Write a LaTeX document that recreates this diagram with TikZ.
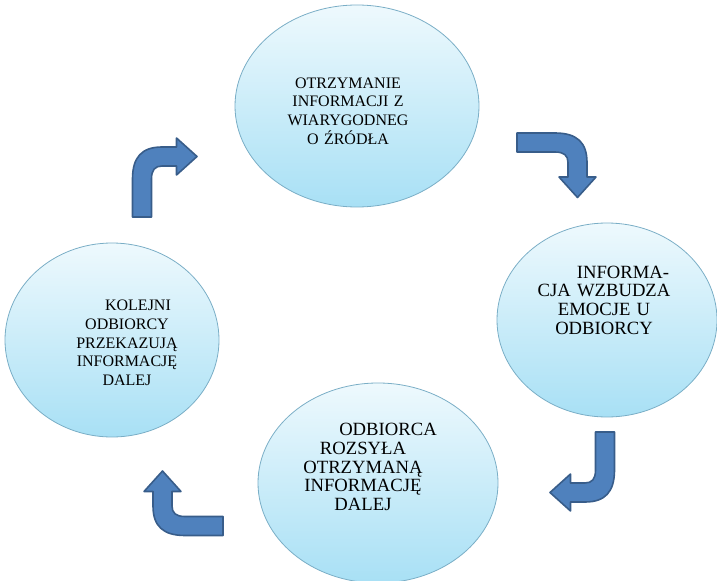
\documentclass[tikz,border=0pt]{standalone}
\usepackage{fontspec}
\setmainfont{Liberation Serif}
\usetikzlibrary{shapes.geometric}
\definecolor{bubbletop}{HTML}{EEF9FD}
\definecolor{bubblebottom}{HTML}{A8E0F5}
\definecolor{bubbleedge}{HTML}{7AAEC6}
\definecolor{arrowfill}{HTML}{4F81BD}
\definecolor{arrowedge}{HTML}{385D8A}
\tikzset{
	bubble/.style={
		ellipse, draw=bubbleedge, line width=0.6pt,
		top color=bubbletop, bottom color=bubblebottom, inner sep=0pt},
	bubbletext/.style={
		align=center, text width=120pt, inner sep=0pt,
		font=\fontsize{12}{14}\selectfont},
	bigtext/.style={font=\fontsize{14}{14}\selectfont},
	bentarrow/.pic={
		\filldraw [fill=arrowfill, draw=arrowedge, line width=1.2pt, line join=round]
		(-9.5,0) -- (-9.5,38) .. controls (-9.5,60) and (0,70) .. (20,70)
		-- (34.5,70) -- (34.5,79) -- (55,60.5) -- (34.5,42) -- (34.5,51)
		-- (20,51) .. controls (13,51) and (9.5,47) .. (9.5,38) -- (9.5,0) -- cycle;
	}
}
\begin{document}
\begin{tikzpicture}[x=0.75pt,y=0.75pt,yscale=-1,xscale=1]
\clip (0,0) rectangle (717,581); %set diagram to the page size

\node [bubble, minimum width=183pt, minimum height=151.5pt] (zrodlo) at (357,106) {};
\node [bubble, minimum width=165pt, minimum height=145.5pt] (emocje) at (607,320) {};
\node [bubble, minimum width=180pt, minimum height=150pt] (rozsyla) at (378,483) {};
\node [bubble, minimum width=160.5pt, minimum height=145.5pt] (kolejni) at (112,340) {};

\node [bubbletext] (zrodlotxt) at (348,111) {OTRZYMANIE\\ INFORMACJI Z\\ WIARYGODNEG\\ O ŹRÓDŁA};
\node [bubbletext, bigtext] (emocjetxt) at (604,300) {\hspace*{28.5pt}INFORMA-\\ CJA WZBUDZA\\ EMOCJE U\\ ODBIORCY};
\node [bubbletext, bigtext] (rozsylatxt) at (363,467) {\hspace*{37.5pt}ODBIORCA\\ ROZSYŁA\\ OTRZYMANĄ\\ INFORMACJĘ\\ DALEJ};
\node [bubbletext] (kolejnitxt) at (127,343) {\hspace*{16.5pt}KOLEJNI\\ ODBIORCY\\ PRZEKAZUJĄ\\ INFORMACJĘ\\ DALEJ};

\pic at (142,217) {bentarrow};
\pic [rotate=-90] at (517,142.5) {bentarrow};
\pic [rotate=180] at (605,432) {bentarrow};
\pic [rotate=90] at (223,526) {bentarrow};
\end{tikzpicture}
\end{document}
